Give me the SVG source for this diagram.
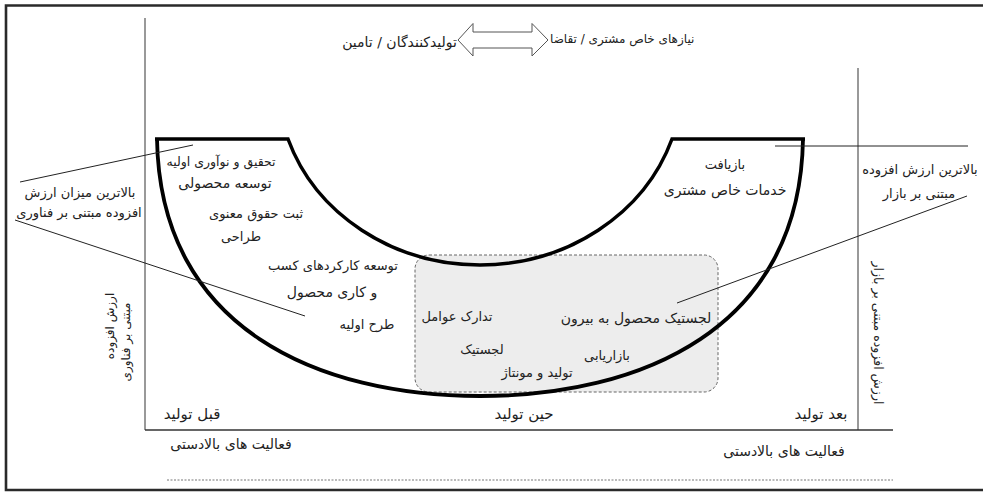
<svg xmlns="http://www.w3.org/2000/svg" width="983" height="494" viewBox="0 0 983 494">
<style>
.t{font-family:"DejaVu Sans",sans-serif;font-size:13px;fill:#222;direction:rtl;text-anchor:middle}
.m{font-size:14px}
.l{font-size:15px}
.s{font-size:12px}
.thin{stroke:#222;stroke-width:1;fill:none}
.axis{stroke:#777;stroke-width:1.5;fill:none}
</style>
<rect width="983" height="494" fill="#fff"/>
<g id="frame">
<path d="M983,5.5 H6 V490 H983" fill="none" stroke="#2a2a2a" stroke-width="2.6"/>
<line x1="145" y1="18" x2="145" y2="430" class="axis"/>
<line x1="858" y1="68" x2="858" y2="430" class="axis"/>
<line x1="145" y1="430" x2="893" y2="430" stroke="#333" stroke-width="1.5"/>
<line x1="167" y1="480" x2="893" y2="480" stroke="#777" stroke-width="1" stroke-dasharray="2 1.5"/>
</g>
<g id="production-box">
<rect x="415" y="255" width="303" height="137" rx="14" fill="#ededed" stroke="#666" stroke-width="1" stroke-dasharray="3 2"/>
</g>
<g id="smile-curve">
<path d="M155,139 H288 A202.6,185 0 0 0 672,139 H805" fill="none" stroke="#000" stroke-width="3.5"/>
<path d="M157,139 C160,330 320,396 480,396 C640,396 800,330 803,139" fill="none" stroke="#000" stroke-width="3.8"/>
</g>
<g id="connectors">
<line x1="20" y1="182" x2="193" y2="145" class="thin"/>
<line x1="15" y1="220" x2="305" y2="316" class="thin"/>
<line x1="775" y1="146" x2="968" y2="146" class="thin"/>
<line x1="967" y1="196" x2="677" y2="303" class="thin"/>
</g>
<g id="header">
<polygon points="458,40 473,23.5 473,32 532,32 532,23.5 548,40 532,56 532,48 473,48 473,56" fill="#fff" stroke="#555" stroke-width="1"/>
<text class="t" x="550" y="43" style="text-anchor:end;font-size:12px">نیازهای خاص مشتری / تقاضا</text>
<text class="t" x="457" y="47" style="text-anchor:start;font-size:14px">تولیدکنندگان / تامین</text>
</g>
<g id="left-label">
<text class="t" x="80" y="197">بالاترین میزان ارزش</text>
<text class="t" x="79" y="217">افزوده مبتنی بر فناوری</text>
</g>
<g id="right-label">
<text class="t" x="920" y="174">بالاترین ارزش افزوده</text>
<text class="t" x="919" y="198">مبتنی بر بازار</text>
</g>
<g id="left-axis-label">
<text class="t s" transform="translate(114,326) rotate(-90)">ارزش افزوده</text>
<text class="t s" transform="translate(130,342) rotate(-90)">مبتنی بر فناوری</text>
</g>
<g id="right-axis-label">
<text class="t" style="font-size:12.5px" transform="translate(874,333) rotate(90)">ارزش افزوده مبتنی بر بازار</text>
</g>
<g id="pre-production">
<text class="t" style="font-size:12.5px" x="221" y="166">تحقیق و نوآوری اولیه</text>
<text class="t m" x="225" y="188">توسعه محصولی</text>
<text class="t" x="256" y="218">ثبت حقوق معنوی</text>
<text class="t" x="241" y="241">طراحی</text>
<text class="t" x="333" y="270">توسعه کارکردهای کسب</text>
<text class="t m" x="332" y="297">و کاری محصول</text>
<text class="t" x="367" y="329">طرح اولیه</text>
</g>
<g id="during-production">
<text class="t" x="457" y="321">تدارک عوامل</text>
<text class="t m" x="636" y="323">لجستیک محصول به بیرون</text>
<text class="t" x="482" y="354">لجستیک</text>
<text class="t" x="607" y="360">بازاریابی</text>
<text class="t" x="537" y="377">تولید و مونتاژ</text>
</g>
<g id="post-production">
<text class="t" x="725" y="169">بازیافت</text>
<text class="t m" x="725" y="195">خدمات خاص مشتری</text>
</g>
<g id="phases">
<text class="t l" x="192" y="419">قبل تولید</text>
<text class="t l" x="524" y="419">حین تولید</text>
<text class="t l" x="821" y="419">بعد تولید</text>
<text class="t m" x="231" y="449">فعالیت های بالادستی</text>
<text class="t m" x="784" y="456">فعالیت های بالادستی</text>
</g>
</svg>
